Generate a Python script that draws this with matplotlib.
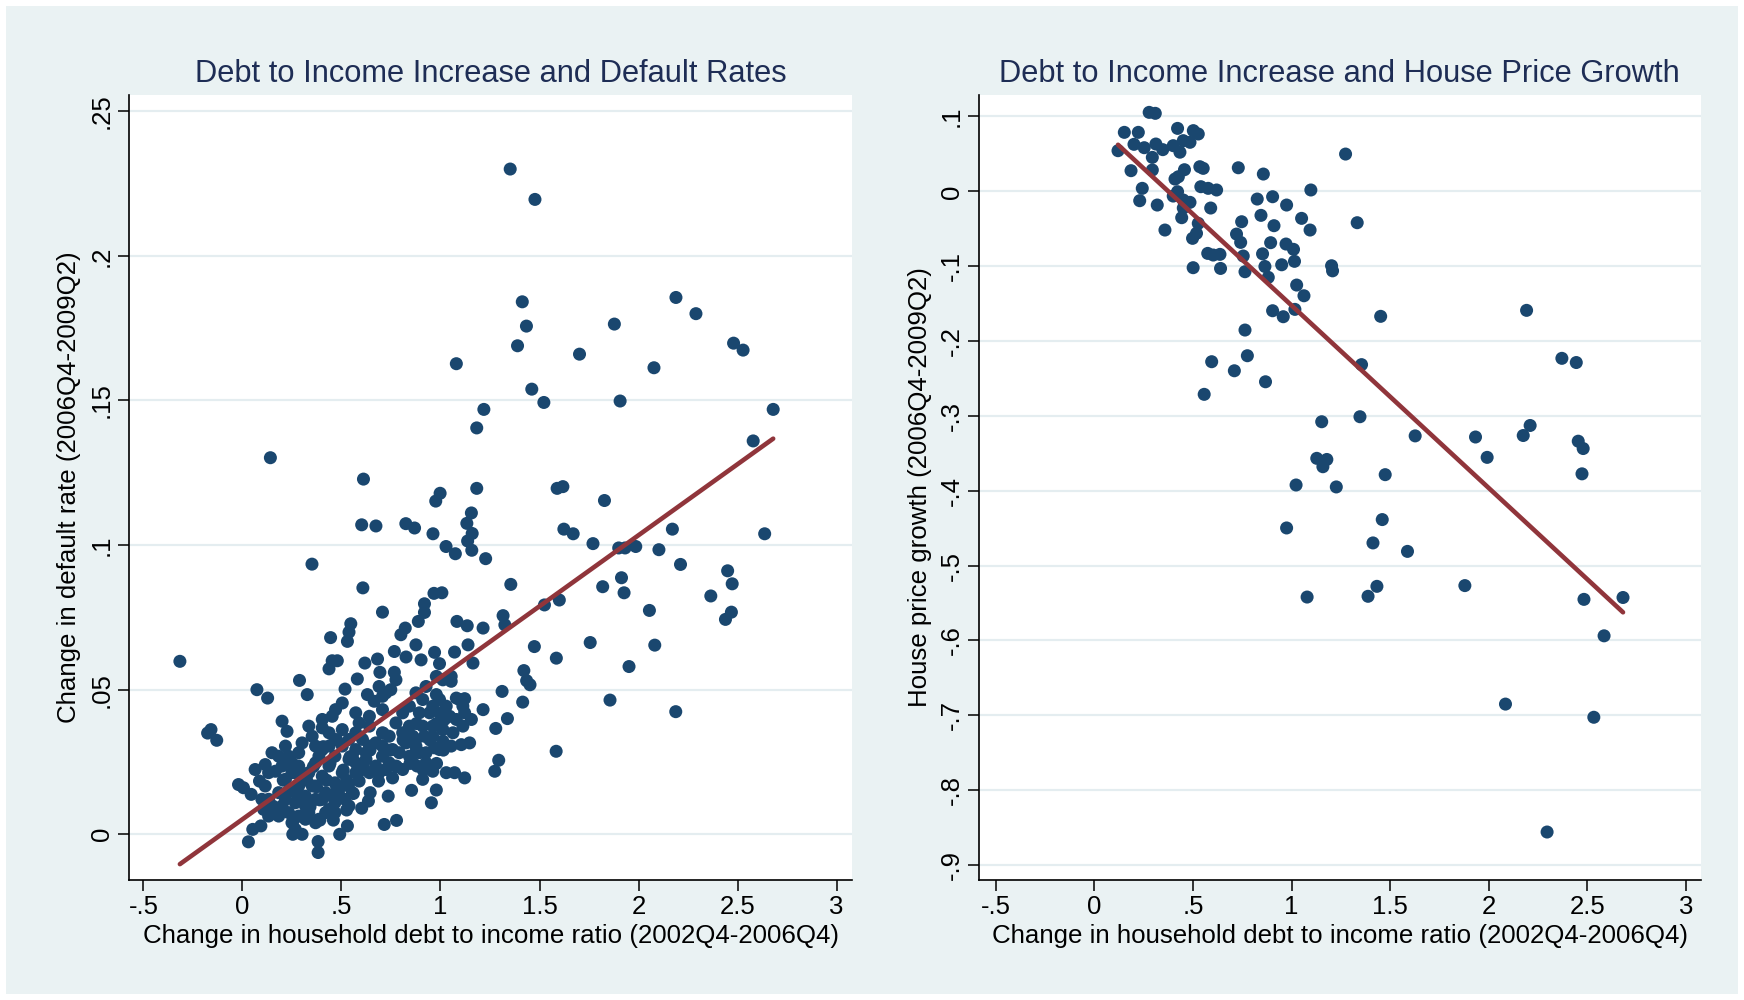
import matplotlib
matplotlib.use("Agg")
import matplotlib.pyplot as plt
from matplotlib.patches import Rectangle
import numpy as np

plt.rcParams['font.family'] = ['Liberation Sans', 'DejaVu Sans']

# ---------------- data: left panel (debt-to-income change vs default-rate change)
left_x = [
    -0.316, -0.176, -0.159, -0.130, 0.707, 0.547, 0.538, 0.530, 0.445, 0.479,
    0.453, 0.437, 0.288, 0.327, 0.073, 0.127, 0.580, 0.518, 0.504, 0.618,
    0.682, 0.694, 0.767, 0.767, 0.826, 0.822, 0.800, 0.876, 0.888, 0.919,
    0.919, 0.902, 0.970, 0.995, 1.083, 1.135, 1.215, 1.316, 1.325, 1.071,
    1.139, 1.164, 1.525, 1.600, 1.474, 1.585, 1.756, 1.421, 1.435, 1.452,
    1.311, 1.415, 1.215, 1.338, 1.279, 1.584, 1.294, 1.274, 1.122, 1.080,
    1.054, 0.979, 0.995, 1.029, 1.122, 1.156, 1.113, 1.147, 1.105, 1.054,
    1.012, 0.970, 0.919, 1.020, 1.122, 1.071, 1.029, 0.979, 0.954, 0.854,
    0.910, 0.961, 0.882, 0.860, 0.778, 0.716, 0.736, 0.758, 0.687, 0.645,
    0.636, 0.602, 0.530, 0.491, 0.382, 0.382, 0.301, 0.254, 0.030, 0.052,
    0.093, 0.044, 0.005, -0.020, 0.086, 0.064, 0.115, 0.149, 0.152, 0.107,
    # dense cluster
    0.200, 0.225, 0.301, 0.352, 0.369, 0.403, 0.453, 0.572, 0.631, 0.665,
    0.707, 0.749, 0.775, 0.641, 0.707, 0.775, 0.809, 0.843, 0.893, 0.945,
    0.876, 0.826, 0.758, 0.707, 0.641, 0.624, 0.555, 0.504, 0.467, 0.437,
    0.403, 0.352, 0.318, 0.267, 0.233, 0.217, 0.250, 0.284, 0.200, 0.166,
    0.183, 0.132, 0.166, 0.233, 0.284, 0.335, 0.369, 0.420, 0.467, 0.518,
    0.535, 0.504, 0.572, 0.606, 0.589, 0.467, 0.420, 0.369, 0.318, 0.284,
    0.335, 0.386, 0.437, 0.504, 0.538, 0.572, 0.606, 0.673, 0.707, 0.741,
    0.792, 0.843, 0.893, 0.927, 0.809, 0.741, 0.673, 0.538, 0.809, 0.843,
    0.910, 0.961, 0.995, 1.046, 1.080, 1.012, 1.063, 0.961, 0.910, 0.860,
    0.961, 0.995, 0.927, 0.876, 0.690, 0.724, 0.876, 0.927, 0.979, 1.012,
    1.054, 1.096, 1.113, 0.707, 0.641, 0.589, 0.437, 0.467, 0.403, 0.369,
    0.284, 0.233, 0.250, 0.301, 0.267, 0.217, 0.200, 0.301, 0.369, 0.403,
    0.453, 0.437, 0.487, 0.555, 0.538, 0.467, 0.386, 0.318, 0.267, 0.250,
    0.183, 0.132, 0.098, 0.115, 0.132, 0.183, 0.217, 0.335, 0.403, 0.470,
    0.572, 0.624, 0.572, 0.641, 0.690, 0.724, 0.775,
    0.290, 0.341, 0.391, 0.442, 0.492, 0.374, 0.425, 0.476, 0.526, 0.324,
    0.273, 0.358, 0.442, 0.509, 0.307, 0.391, 0.459, 0.526, 0.257, 0.240,
    0.206, 0.560, 0.577, 0.408, 0.476, 0.543,
    0.745, 0.811, 0.879, 0.947, 1.014, 0.778, 0.846, 0.913, 0.980, 0.711,
    0.879, 0.980, 0.644, 0.610,
    # upper part
    1.352, 1.477, 1.413, 1.434, 1.389, 1.080, 2.189, 2.290, 1.878, 2.480,
    2.528, 1.702, 2.078, 1.461, 1.522, 1.907, 2.680, 1.219, 1.183, 2.579,
    0.141, 0.611, 1.183, 1.589, 1.618, 0.998, 0.976, 1.828, 1.156, 1.133,
    1.160, 1.137, 1.158, 0.602, 0.674, 0.825, 0.869, 0.962, 1.028, 1.075,
    1.228, 1.623, 1.670, 1.770, 1.900, 1.932, 1.986, 2.103, 2.171, 2.637,
    2.212, 2.450, 2.473, 1.914, 1.927, 1.819, 2.365, 0.351, 0.608, 1.355,
    0.967, 1.007,
    # right side, lower
    2.469, 2.439, 2.055, 2.082, 1.952, 1.856, 2.188,
]
left_y = [
    0.0598, 0.0350, 0.0362, 0.0325, 0.0768, 0.0728, 0.0699, 0.0667, 0.0680, 0.0600,
    0.0600, 0.0572, 0.0532, 0.0483, 0.0500, 0.0471, 0.0537, 0.0502, 0.0454, 0.0592,
    0.0606, 0.0560, 0.0632, 0.0560, 0.0613, 0.0713, 0.0690, 0.0655, 0.0736, 0.0767,
    0.0797, 0.0603, 0.0629, 0.0590, 0.0736, 0.0721, 0.0713, 0.0756, 0.0724, 0.0630,
    0.0655, 0.0592, 0.0793, 0.0810, 0.0649, 0.0609, 0.0663, 0.0566, 0.0531, 0.0517,
    0.0494, 0.0457, 0.0431, 0.0400, 0.0366, 0.0287, 0.0256, 0.0218, 0.0469, 0.0471,
    0.0529, 0.0483, 0.0466, 0.0443, 0.0420, 0.0397, 0.0374, 0.0316, 0.0310, 0.0305,
    0.0322, 0.0299, 0.0339, 0.0397, 0.0195, 0.0213, 0.0213, 0.0153, 0.0109, 0.0152,
    0.0190, 0.0218, 0.0236, 0.0247, 0.0048, 0.0034, 0.0132, 0.0195, 0.0184, 0.0144,
    0.0115, 0.0090, 0.0029, 0.0000, -0.0025, -0.0063, 0.0000, 0.0000, -0.0026, 0.0017,
    0.0029, 0.0138, 0.0161, 0.0172, 0.0184, 0.0224, 0.0241, 0.0282, 0.0098, 0.0086,
    # dense cluster
    0.0391, 0.0356, 0.0316, 0.0339, 0.0305, 0.0368, 0.0408, 0.0420, 0.0483, 0.0460,
    0.0477, 0.0500, 0.0534, 0.0374, 0.0351, 0.0385, 0.0351, 0.0374, 0.0420, 0.0420,
    0.0328, 0.0316, 0.0293, 0.0270, 0.0305, 0.0259, 0.0270, 0.0305, 0.0270, 0.0236,
    0.0201, 0.0167, 0.0132, 0.0109, 0.0149, 0.0190, 0.0247, 0.0236, 0.0236, 0.0218,
    0.0144, 0.0121, 0.0075, 0.0075, 0.0063, 0.0075, 0.0040, 0.0075, 0.0109, 0.0121,
    0.0167, 0.0213, 0.0213, 0.0224, 0.0184, 0.0178, 0.0144, 0.0121, 0.0098, 0.0167,
    0.0213, 0.0270, 0.0305, 0.0362, 0.0328, 0.0351, 0.0328, 0.0316, 0.0305, 0.0339,
    0.0282, 0.0270, 0.0282, 0.0247, 0.0224, 0.0247, 0.0236, 0.0259, 0.0420, 0.0443,
    0.0466, 0.0443, 0.0420, 0.0408, 0.0397, 0.0362, 0.0351, 0.0374, 0.0374, 0.0339,
    0.0339, 0.0293, 0.0282, 0.0305, 0.0511, 0.0489, 0.0489, 0.0511, 0.0546, 0.0534,
    0.0546, 0.0466, 0.0443, 0.0431, 0.0408, 0.0385, 0.0351, 0.0328, 0.0293, 0.0247,
    0.0282, 0.0270, 0.0213, 0.0201, 0.0144, 0.0121, 0.0098, 0.0121, 0.0167, 0.0121,
    0.0132, 0.0086, 0.0155, 0.0144, 0.0098, 0.0075, 0.0052, 0.0052, 0.0017, 0.0040,
    0.0063, 0.0063, 0.0121, 0.0167, 0.0213, 0.0270, 0.0305, 0.0374, 0.0397, 0.0431,
    0.0293, 0.0282, 0.0247, 0.0213, 0.0213, 0.0224, 0.0236,
    0.0130, 0.0095, 0.0119, 0.0084, 0.0130, 0.0164, 0.0187, 0.0164, 0.0187, 0.0187,
    0.0211, 0.0234, 0.0245, 0.0222, 0.0061, 0.0049, 0.0049, 0.0084, 0.0049, 0.0153,
    0.0187, 0.0141, 0.0211, 0.0303, 0.0326, 0.0268,
    0.0291, 0.0326, 0.0291, 0.0326, 0.0291, 0.0234, 0.0245, 0.0222, 0.0245, 0.0349,
    0.0383, 0.0383, 0.0291, 0.0234,
    # upper part
    0.2300, 0.2195, 0.1841, 0.1757, 0.1689, 0.1627, 0.1856, 0.1800, 0.1764, 0.1698,
    0.1674, 0.1660, 0.1613, 0.1539, 0.1493, 0.1498, 0.1469, 0.1469, 0.1405, 0.1360,
    0.1302, 0.1228, 0.1196, 0.1196, 0.1202, 0.1179, 0.1152, 0.1154, 0.1111, 0.1075,
    0.1040, 0.1014, 0.0982, 0.1070, 0.1066, 0.1074, 0.1059, 0.1039, 0.0995, 0.0970,
    0.0953, 0.1055, 0.1039, 0.1005, 0.0990, 0.0990, 0.0995, 0.0984, 0.1055, 0.1039,
    0.0933, 0.0911, 0.0866, 0.0887, 0.0835, 0.0856, 0.0824, 0.0934, 0.0852, 0.0864,
    0.0833, 0.0835,
    # right side, lower
    0.0768, 0.0743, 0.0774, 0.0654, 0.0580, 0.0464, 0.0424,
]

# ---------------- data: right panel (debt-to-income change vs house price growth)
right_x = [
    0.120, 0.152, 0.223, 0.201, 0.253, 0.186, 0.243, 0.230, 0.278, 0.309,
    0.294, 0.294, 0.319, 0.312, 0.347, 0.358, 0.400, 0.422, 0.434, 0.451,
    0.485, 0.502, 0.527, 0.409, 0.426, 0.457, 0.422, 0.400, 0.451, 0.485,
    0.451, 0.443, 0.535, 0.552, 0.540, 0.577, 0.620, 0.590, 0.527, 0.518,
    0.498, 0.501, 0.575, 0.603, 0.637, 0.640, 0.730, 0.747, 0.721, 0.742,
    0.755, 0.764, 0.857, 0.826, 0.904, 0.845, 0.911, 0.975, 0.894, 0.972,
    1.010, 0.853, 0.865, 0.950, 1.015, 0.882, 1.026, 1.063, 0.904, 0.958,
    1.017, 1.098, 1.051, 1.094, 1.203, 1.208, 1.274, 1.333, 0.764, 0.776,
    0.595, 0.710, 0.868, 0.557, 1.355, 1.347, 1.153, 1.128, 1.179, 1.159,
    1.452,
    2.192, 2.371, 2.444, 1.627, 1.933, 1.992, 2.175, 2.210, 2.454, 2.479,
    2.473, 1.023, 1.227, 1.475, 0.975, 1.460, 1.413, 1.588, 1.079, 1.388,
    1.433, 1.879, 2.483, 2.681, 2.585, 2.085, 2.533, 2.296,
]
right_y = [
    0.0543, 0.0788, 0.0788, 0.0628, 0.0583, 0.0276, 0.0040, -0.0125, 0.1055, 0.1042,
    0.0454, 0.0285, -0.0183, 0.0632, 0.0557, -0.0517, 0.0610, 0.0841, 0.0523, 0.0677,
    0.0655, 0.0811, 0.0766, 0.0164, 0.0195, 0.0289, -0.0005, -0.0063, -0.0116, -0.0147,
    -0.0223, -0.0352, 0.0329, 0.0307, 0.0062, 0.0040, 0.0018, -0.0223, -0.0428, -0.0561,
    -0.0628, -0.1020, -0.0829, -0.0851, -0.0842, -0.1030, 0.0315, -0.0406, -0.0571, -0.0682,
    -0.0864, -0.1074, 0.0231, -0.0103, -0.0072, -0.0321, -0.0459, -0.0183, -0.0686, -0.0704,
    -0.0775, -0.0835, -0.1004, -0.0981, -0.0935, -0.1149, -0.1252, -0.1395, -0.1595, -0.1675,
    -0.1577, 0.0018, -0.0361, -0.0517, -0.0994, -0.1062, 0.0498, -0.0419, -0.1853, -0.2196,
    -0.2276, -0.2397, -0.2544, -0.2712, -0.2315, -0.3011, -0.3078, -0.3567, -0.3582, -0.3679,
    -0.1670,
    -0.1590, -0.2231, -0.2287, -0.3267, -0.3282, -0.3554, -0.3262, -0.3128, -0.3338, -0.3436,
    -0.3774, -0.3923, -0.3949, -0.3785, -0.4497, -0.4385, -0.4697, -0.4810, -0.5420, -0.5410,
    -0.5277, -0.5267, -0.5451, -0.5426, -0.5938, -0.6850, -0.7026, -0.8559,
]

# linear fits (intercept, slope)
left_fit = [0.0052, 0.0491]
right_fit = [0.0915, -0.2439]

titles = ["Debt to Income Increase and Default Rates",
          "Debt to Income Increase and House Price Growth"]
x_label = "Change in household debt to income ratio (2002Q4-2006Q4)"
y_labels = ["Change in default rate (2006Q4-2009Q2)",
            "House price growth (2006Q4-2009Q2)"]
x_ticks = [-0.5, 0, 0.5, 1, 1.5, 2, 2.5, 3]
x_ticklabels = ["-.5", "0", ".5", "1", "1.5", "2", "2.5", "3"]
left_yticks = [0, 0.05, 0.1, 0.15, 0.2, 0.25]
left_yticklabels = ["0", ".05", ".1", ".15", ".2", ".25"]
right_yticks = [0.1, 0, -0.1, -0.2, -0.3, -0.4, -0.5, -0.6, -0.7, -0.8, -0.9]
right_yticklabels = [".1", "0", "-.1", "-.2", "-.3", "-.4", "-.5", "-.6", "-.7", "-.8", "-.9"]

# ---------------- style
BG = "#EAF2F3"
GRID = "#E4EDF0"
NAVY = "#1A476F"
MAROON = "#90353B"
TITLE_C = "#1E2D55"

W, H = 1744, 1000
fig = plt.figure(figsize=(W / 100, H / 100), dpi=100, facecolor="white")
fig.patches.append(Rectangle((6 / W, 6 / H), (W - 12) / W, (H - 12) / H,
                             transform=fig.transFigure, facecolor=BG,
                             edgecolor="none", zorder=-10))

ax_top = 95
ax_bot = 880
axes_px = [(129.2, 852.0), (979.0, 1700.7)]
xlims = [(-0.572, 3.078), (-0.585, 3.075)]
ylims = [(-0.0158, 0.2556), (-0.920, 0.1287)]

panels = [
    (left_x, left_y, left_fit, left_yticks, left_yticklabels),
    (right_x, right_y, right_fit, right_yticks, right_yticklabels),
]

for i, (xs, ys, fit, yt, ytl) in enumerate(panels):
    x0, x1 = axes_px[i]
    ax = fig.add_axes([x0 / W, 1 - ax_bot / H, (x1 - x0) / W, (ax_bot - ax_top) / H])
    ax.set_facecolor("white")
    xs = np.array(xs)
    ys = np.array(ys)
    ax.scatter(xs, ys, s=88, color=NAVY, edgecolors="none", zorder=3)
    xl = np.array([xs.min(), xs.max()])
    ax.plot(xl, fit[0] + fit[1] * xl, color=MAROON, lw=3.3,
            solid_capstyle="round", zorder=4)
    ax.set_xlim(*xlims[i])
    ax.set_ylim(*ylims[i])
    ax.set_xticks(x_ticks)
    ax.set_xticklabels(x_ticklabels)
    ax.set_yticks(yt)
    ax.set_yticklabels(ytl, rotation=90, va="center")
    for t in yt:
        ax.axhline(t, color=GRID, lw=1.6, zorder=1)
    for s in ("top", "right"):
        ax.spines[s].set_visible(False)
    for s in ("left", "bottom"):
        ax.spines[s].set_linewidth(1.2)
        ax.spines[s].set_color("black")
    ax.tick_params(axis="both", direction="out", length=8, width=1.1,
                   labelsize=18.5, colors="black")
    ax.tick_params(axis="x", pad=3)
    ax.tick_params(axis="y", pad=3)

    cx = (x0 + x1) / 2
    fig.text(cx / W, 1 - 74.5 / H, titles[i], ha="center", va="center",
             fontsize=22.2, color=TITLE_C)
    fig.text(cx / W, 1 - 936.5 / H, x_label, ha="center", va="center",
             fontsize=18.6, color="black")
    ylx = [69, 920][i]
    fig.text(ylx / W, 1 - ((ax_top + ax_bot) / 2) / H, y_labels[i],
             ha="center", va="center", rotation=90, fontsize=18.6, color="black")

fig.savefig("out.png", dpi=100, facecolor="white")
